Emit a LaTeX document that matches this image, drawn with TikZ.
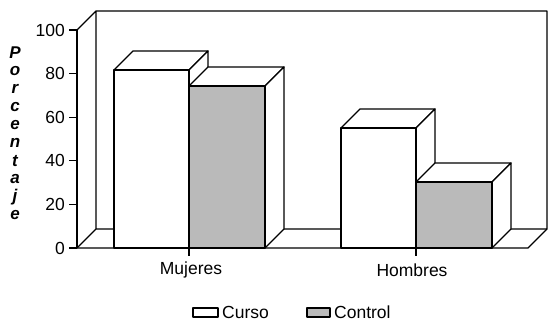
\documentclass[tikz,border=0pt]{standalone}
\usepackage{fontspec}
\setmainfont{Liberation Sans}
\begin{document}
\begin{tikzpicture}[x=1pt,y=-1pt,line join=round,
  edge/.style={line width=1.3pt},
  ctrlfill/.style={fill=black!27},
  curfill/.style={fill=white},
  lbl/.style={font=\fontsize{17.5}{20}\selectfont, inner sep=0pt},
  ylbl/.style={font=\fontsize{17}{18}\selectfont\bfseries\itshape, inner sep=0pt}]
\useasboundingbox (0,0) rectangle (548,321);
% back wall and floor
\draw[edge] (77,30) -- (96,11) -- (547,11) -- (547,229) -- (96,229) -- (96,11);
\draw[edge] (77,248) -- (96,229);
\draw[edge] (77,248) -- (528,248) -- (547,229);
% bars: front x1, x2, top y, fill
\foreach \xa/\xb/\yt/\st in {114/189/70/curfill, 189/265/86/ctrlfill, 341/416/128/curfill, 416/492/182/ctrlfill}{
  \pgfmathsetmacro{\xc}{\xa+19}
  \pgfmathsetmacro{\xd}{\xb+19}
  \pgfmathsetmacro{\yu}{\yt-19}
  \draw[edge,fill=white] (\xa,\yt) -- (\xc,\yu) -- (\xd,\yu) -- (\xb,\yt) -- cycle;
  \draw[edge,fill=white] (\xb,\yt) -- (\xd,\yu) -- (\xd,229) -- (\xb,248) -- cycle;
  \draw[edge,\st] (\xa,248) rectangle (\xb,\yt);
}
% axis
\draw[edge] (77,30) -- (77,248);
\foreach \v in {0,20,40,60,80,100}{
  \pgfmathsetmacro{\yy}{248-2.18*\v}
  \draw[edge] (69,\yy) -- (77,\yy);
  \node[lbl,anchor=east] (t\v) at (65,\yy) {\v};
}
\draw[edge] (189,248) -- (189,256);
\draw[edge] (416,248) -- (416,256);
\node[lbl] (muj) at (191,270) {Mujeres};
\node[lbl] (hom) at (412,270) {Hombres};
% y label
\foreach \c [count=\i] in {P,o,r,c,e,n,t,a,j,e}{
  \node[ylbl] (y\i) at (15,{53+18*(\i-1)}) {\c};
}
% legend
\draw[line width=1.1pt,fill=white] (193,308) rectangle (218,317);
\node[lbl,anchor=west] (cur) at (222,312) {Curso};
\draw[line width=1.1pt,ctrlfill] (307,308) rectangle (330,317);
\node[lbl,anchor=west] (con) at (334,312) {Control};
\end{tikzpicture}
\end{document}
